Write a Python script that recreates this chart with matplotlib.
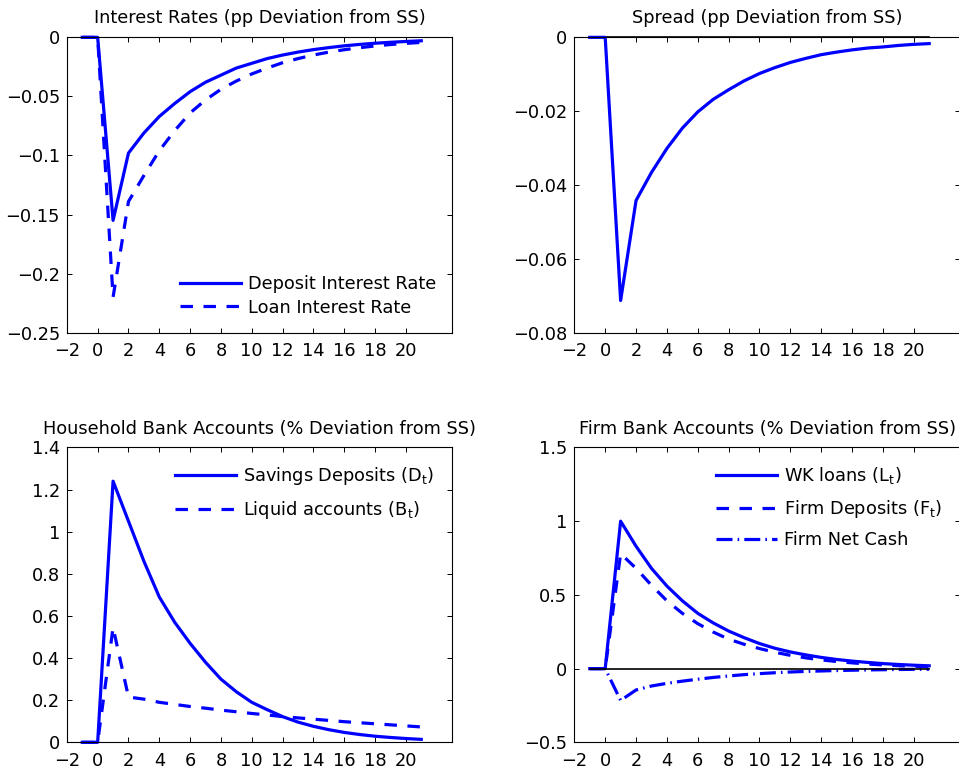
import matplotlib
matplotlib.use('Agg')
import matplotlib.pyplot as plt
import numpy as np
from matplotlib.ticker import FuncFormatter

# 字体设置
plt.rcParams['font.family'] = ['DejaVu Sans']
plt.rcParams['mathtext.default'] = 'regular'

FS = 12.8

# periods
t = np.arange(-1, 22)

# pp deviation from SS
deposit_rate = [0, 0, -0.155, -0.098, -0.081, -0.067, -0.056, -0.046, -0.038, -0.032, -0.026, -0.022,
                -0.018, -0.015, -0.0125, -0.0104, -0.0087, -0.0072, -0.006, -0.005, -0.0042, -0.0035, -0.0029]
loan_rate = [0, 0, -0.22, -0.139, -0.117, -0.096, -0.079, -0.064, -0.053, -0.044, -0.037, -0.031,
             -0.026, -0.0215, -0.018, -0.015, -0.0125, -0.0105, -0.0088, -0.0073, -0.0061, -0.0051, -0.0043]
spread = [0, 0, -0.0713, -0.0442, -0.0366, -0.0301, -0.0246, -0.0202, -0.0168, -0.0142, -0.0118, -0.0098,
          -0.0082, -0.0068, -0.0057, -0.0047, -0.0040, -0.0034, -0.0029, -0.0026, -0.0022, -0.0019, -0.0017]

# % deviation from SS
savings_deposits = [0, 0, 1.24, 1.05, 0.86, 0.69, 0.57, 0.47, 0.38, 0.30, 0.24, 0.19,
                    0.155, 0.122, 0.096, 0.076, 0.06, 0.047, 0.037, 0.029, 0.023, 0.018, 0.014]
liquid_accounts = [0, 0, 0.545, 0.215, 0.205, 0.19, 0.18, 0.17, 0.162, 0.153, 0.145, 0.137,
                   0.13, 0.122, 0.116, 0.11, 0.104, 0.098, 0.093, 0.088, 0.083, 0.078, 0.073]
wk_loans = [0, 0, 1.0, 0.83, 0.68, 0.56, 0.46, 0.375, 0.31, 0.255, 0.21, 0.17,
            0.138, 0.113, 0.093, 0.076, 0.062, 0.051, 0.042, 0.034, 0.028, 0.023, 0.019]
firm_deposits = [0, 0, 0.78, 0.68, 0.565, 0.46, 0.375, 0.305, 0.248, 0.20, 0.165, 0.136,
                 0.111, 0.09, 0.073, 0.059, 0.048, 0.039, 0.031, 0.025, 0.02, 0.016, 0.013]
net_cash = [0, 0, -0.216, -0.145, -0.118, -0.100, -0.085, -0.072, -0.060, -0.050, -0.041, -0.034,
            -0.028, -0.023, -0.019, -0.016, -0.013, -0.011, -0.009, -0.0075, -0.006, -0.005, -0.004]

x_ticks = [-2, 0, 2, 4, 6, 8, 10, 12, 14, 16, 18, 20]

BLUE = '#0000ff'
LW = 2.3
DASH = (0, (3.9, 3.3))
DASHDOT = (0, (5.0, 1.6, 0.5, 1.6))


def fmt(v, pos):
    return ('%g' % (round(v, 6) + 0.0)).replace('-', '\u2212')


def style_axes(ax, ylim, yticks, title):
    ax.set_xlim(-2, 23)
    ax.set_xticks(x_ticks)
    ax.set_ylim(*ylim)
    ax.set_yticks(yticks)
    ax.yaxis.set_major_formatter(FuncFormatter(fmt))
    ax.xaxis.set_major_formatter(FuncFormatter(fmt))
    ax.tick_params(direction='in', top=True, right=True, length=3.5, width=0.7,
                   labelsize=FS)
    ax.tick_params(axis='x', pad=7)
    ax.tick_params(axis='y', pad=5)
    for s in ax.spines.values():
        s.set_linewidth(0.8)
    ax.set_title(title, fontsize=FS, pad=10)


fig = plt.figure(figsize=(9.59, 7.73), dpi=100)
ax1 = fig.add_axes([0.0697, 0.5697, 0.4017, 0.382])
ax2 = fig.add_axes([0.5989, 0.5697, 0.4022, 0.382])
ax3 = fig.add_axes([0.0697, 0.0397, 0.4017, 0.3814])
ax4 = fig.add_axes([0.5989, 0.0397, 0.4022, 0.3814])

zeros = np.zeros(len(t))

# 利率
ax1.plot(t, deposit_rate, color=BLUE, lw=LW, clip_on=False, label='Deposit Interest Rate')
ax1.plot(t, loan_rate, color=BLUE, lw=LW, ls=DASH, clip_on=False, label='Loan Interest Rate')
style_axes(ax1, (-0.25, 0), np.arange(-0.25, 0.001, 0.05), 'Interest Rates (pp Deviation from SS)')
ax1.legend(loc='lower right', frameon=False, fontsize=FS, handlelength=3.4,
           handletextpad=0.4, labelspacing=0.3, borderaxespad=0.5)

# 利差
ax2.plot(t, zeros, color='k', lw=1.2, zorder=1.5, clip_on=False)
ax2.plot(t, spread, color=BLUE, lw=LW, clip_on=False)
style_axes(ax2, (-0.08, 0), np.arange(-0.08, 0.0001, 0.02), 'Spread (pp Deviation from SS)')

# 家庭账户
ax3.plot(t, savings_deposits, color=BLUE, lw=LW, clip_on=False, label='Savings Deposits ($D_t$)')
ax3.plot(t, liquid_accounts, color=BLUE, lw=LW, ls=DASH, clip_on=False, label='Liquid accounts ($B_t$)')
style_axes(ax3, (0, 1.4), np.arange(0, 1.41, 0.2), 'Household Bank Accounts (% Deviation from SS)')
ax3.legend(loc='upper right', frameon=False, fontsize=FS, handlelength=3.4,
           handletextpad=0.4, labelspacing=0.65, borderaxespad=0.6)

# 企业账户
ax4.plot(t, wk_loans, color=BLUE, lw=LW, clip_on=False, label='WK loans ($L_t$)')
ax4.plot(t, firm_deposits, color=BLUE, lw=LW, ls=DASH, clip_on=False, label='Firm Deposits ($F_t$)')
ax4.plot(t, net_cash, color=BLUE, lw=LW, ls=DASHDOT, clip_on=False, label='Firm Net Cash')
ax4.plot(t, zeros, color='k', lw=1.2, zorder=3, clip_on=False)
style_axes(ax4, (-0.5, 1.5), np.arange(-0.5, 1.51, 0.5), 'Firm Bank Accounts (% Deviation from SS)')
ax4.legend(loc='upper right', frameon=False, fontsize=FS, handlelength=3.4,
           handletextpad=0.4, labelspacing=0.65, borderaxespad=0.6)

plt.savefig('out.png', dpi=100, facecolor='white')
plt.close(fig)
